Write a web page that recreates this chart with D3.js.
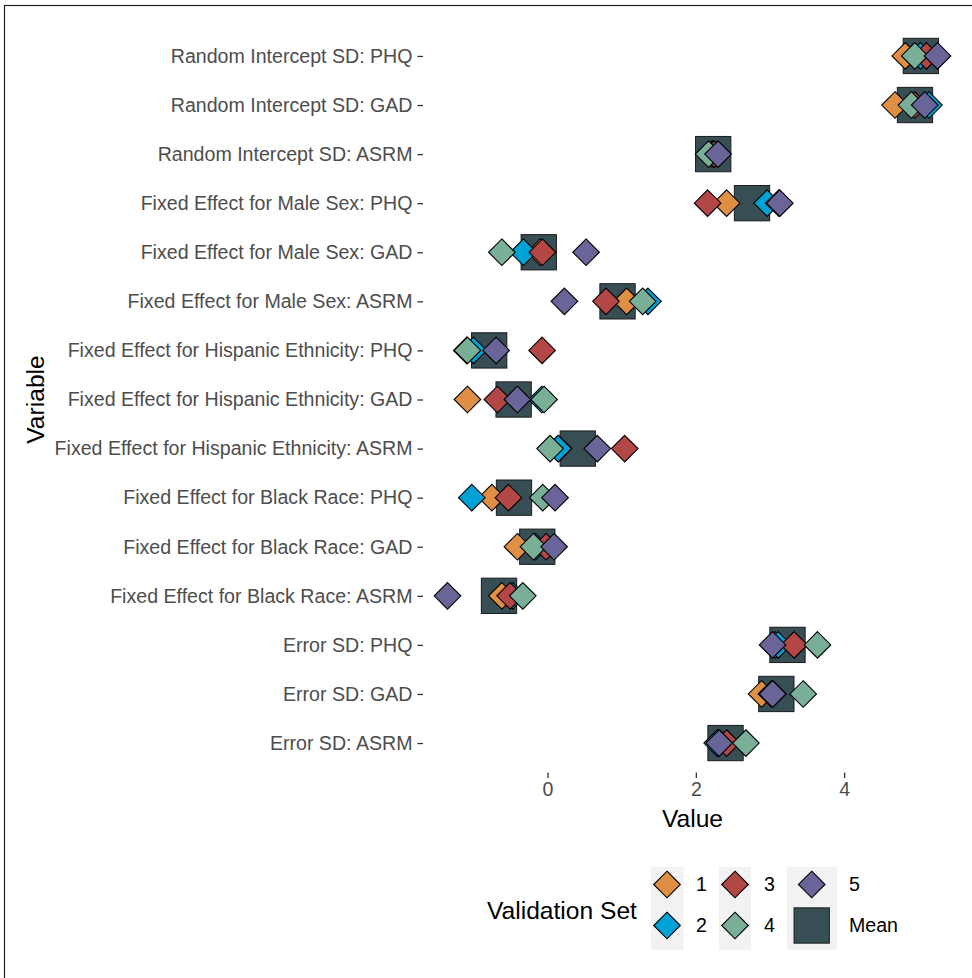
<!DOCTYPE html>
<html>
<head>
<meta charset="utf-8">
<script src="https://cdn.jsdelivr.net/npm/d3@7"></script>
<style>
  html, body { margin: 0; padding: 0; background: #fff; }
  svg { display: block; font-family: "Liberation Sans", Arial, sans-serif; }
</style>
</head>
<body>
<script>
// Model parameters, top row first
const variables = [
  "Random Intercept SD: PHQ",
  "Random Intercept SD: GAD",
  "Random Intercept SD: ASRM",
  "Fixed Effect for Male Sex: PHQ",
  "Fixed Effect for Male Sex: GAD",
  "Fixed Effect for Male Sex: ASRM",
  "Fixed Effect for Hispanic Ethnicity: PHQ",
  "Fixed Effect for Hispanic Ethnicity: GAD",
  "Fixed Effect for Hispanic Ethnicity: ASRM",
  "Fixed Effect for Black Race: PHQ",
  "Fixed Effect for Black Race: GAD",
  "Fixed Effect for Black Race: ASRM",
  "Error SD: PHQ",
  "Error SD: GAD",
  "Error SD: ASRM"
];

// Estimates per validation set, same row order as `variables`
const set1 = [4.825, 4.687, 2.22, 2.415, -0.10, 1.067, -1.09, -1.081, 0.15, -0.752, -0.407, -0.617, 3.07, 2.887, 2.31];
const set2 = [5.03, 5.145, 2.23, 2.962, -0.326, 1.354, -1.0, -0.078, 0.142, -1.022, -0.165, -0.47, 3.11, 3.02, 2.288];
const set3 = [5.11, 4.953, 2.25, 2.159, -0.07, 0.788, -0.074, -0.677, 1.04, -0.528, -0.02, -0.505, 3.326, 3.04, 2.415];
const set4 = [4.953, 4.908, 2.172, 3.12, -0.617, 1.283, -1.081, -0.047, 0.034, -0.065, -0.191, -0.334, 3.641, 3.448, 2.675];
const set5 = [5.26, 5.088, 2.30, 3.133, 0.519, 0.227, -0.694, -0.407, 0.671, 0.101, 0.088, -1.35, 3.035, 3.035, 2.315];

const setNames = ["1", "2", "3", "4", "5"];
const setValues = [set1, set2, set3, set4, set5];
const setColors = ["#DF8F44", "#00A1D5", "#B24745", "#79AF97", "#6A6599"];
const meanColor = "#374E55";
const xTicks = [0, 2, 4];

// Mean across the five validation sets for each variable
const meanValues = variables.map((v, i) => d3.mean(setValues, s => s[i]));

const W = 972, H = 978;
const panel = { left: 423, right: 962, top: 26.5, bottom: 772.5 };
const axisFont = 19.6, titleFont = 24.6;

const svg = d3.select("body").append("svg")
  .attr("width", W).attr("height", H);

svg.append("rect").attr("width", W).attr("height", H).attr("fill", "#fff");
// outer frame (left and top edges visible)
svg.append("rect")
  .attr("x", 4.5).attr("y", 5.5)
  .attr("width", W + 10).attr("height", H + 10)
  .attr("fill", "none").attr("stroke", "#222").attr("stroke-width", 1.2);

// x domain: data range with 5% expansion on each side
const allVals = setValues.flat().concat(meanValues);
const lo = d3.min(allVals), hi = d3.max(allVals);
const pad = (hi - lo) * 0.05;
const x = d3.scaleLinear().domain([lo - pad, hi + pad]).range([panel.left, panel.right]);
const y = d3.scalePoint().domain(variables).range([panel.top, panel.bottom]).padding(0.6);

const axisTextColor = "#4D4D4D";

// y axis
const yAxis = svg.append("g")
  .attr("transform", `translate(${panel.left},0)`)
  .call(d3.axisLeft(y).tickSize(5.5).tickPadding(5));
yAxis.select(".domain").remove();
yAxis.selectAll(".tick line").attr("stroke", "#333").attr("stroke-width", 1.3);
yAxis.selectAll(".tick text")
  .attr("fill", axisTextColor).attr("font-size", axisFont)
  .attr("font-family", "Liberation Sans, Arial, sans-serif");

// x axis
const xAxis = svg.append("g")
  .attr("transform", `translate(0,${panel.bottom})`)
  .call(d3.axisBottom(x).tickValues(xTicks).tickFormat(d3.format("d")).tickSize(5.5).tickPadding(4));
xAxis.select(".domain").remove();
xAxis.selectAll(".tick line").attr("stroke", "#333").attr("stroke-width", 1.3);
xAxis.selectAll(".tick text")
  .attr("fill", axisTextColor).attr("font-size", axisFont)
  .attr("font-family", "Liberation Sans, Arial, sans-serif");

// axis titles
svg.append("text")
  .attr("x", (panel.left + panel.right) / 2).attr("y", 827)
  .attr("text-anchor", "middle").attr("font-size", titleFont).attr("fill", "#000")
  .text("Value");
svg.append("text")
  .attr("transform", `translate(44,${(panel.top + panel.bottom) / 2}) rotate(-90)`)
  .attr("text-anchor", "middle").attr("font-size", titleFont).attr("fill", "#000")
  .text("Variable");

const diamond = r => `M0,${-r}L${r},0L0,${r}L${-r},0Z`;
const DR = 13.3;   // diamond half-diagonal
const SQ = 35.3;   // mean square side

const marks = svg.append("g");

// mean squares underneath
marks.selectAll("rect.mean")
  .data(variables)
  .join("rect")
  .attr("class", "mean")
  .attr("x", (d, i) => x(meanValues[i]) - SQ / 2)
  .attr("y", d => y(d) - SQ / 2)
  .attr("width", SQ).attr("height", SQ)
  .attr("fill", meanColor).attr("stroke", "#1a1a1a").attr("stroke-width", 1);

// validation-set diamonds, drawn set 1 through set 5
setValues.forEach((vals, s) => {
  marks.append("g").selectAll("path")
    .data(variables)
    .join("path")
    .attr("d", diamond(DR))
    .attr("transform", (d, i) => `translate(${x(vals[i])},${y(d)})`)
    .attr("fill", setColors[s]).attr("stroke", "#000").attr("stroke-width", 1.1);
});

// legend
const legend = svg.append("g");
legend.append("text")
  .attr("x", 487).attr("y", 918.5)
  .attr("font-size", titleFont).attr("fill", "#000")
  .text("Validation Set");

const legCols = [
  { bgX: 651, bgW: 32.5, cx: 667, labelX: 696, items: [0, 1] },
  { bgX: 719, bgW: 32, cx: 735, labelX: 764, items: [2, 3] },
  { bgX: 787, bgW: 50, cx: 811.7, labelX: 849, items: [4, "mean"] }
];
const rowY = [884.5, 925.5];

legCols.forEach(col => {
  legend.append("rect")
    .attr("x", col.bgX).attr("y", 867).attr("width", col.bgW).attr("height", 83)
    .attr("fill", "#F2F2F2");
  col.items.forEach((it, r) => {
    if (it === "mean") {
      legend.append("rect")
        .attr("x", col.cx - SQ / 2).attr("y", rowY[r] - SQ / 2)
        .attr("width", SQ).attr("height", SQ)
        .attr("fill", meanColor).attr("stroke", "#1a1a1a").attr("stroke-width", 1);
      legend.append("text")
        .attr("x", col.labelX).attr("y", rowY[r]).attr("dy", "0.35em")
        .attr("font-size", axisFont).attr("fill", "#000").text("Mean");
    } else {
      legend.append("path")
        .attr("d", diamond(DR))
        .attr("transform", `translate(${col.cx},${rowY[r]})`)
        .attr("fill", setColors[it]).attr("stroke", "#000").attr("stroke-width", 1.1);
      legend.append("text")
        .attr("x", col.labelX).attr("y", rowY[r]).attr("dy", "0.35em")
        .attr("font-size", axisFont).attr("fill", "#000").text(setNames[it]);
    }
  });
});
</script>
</body>
</html>
